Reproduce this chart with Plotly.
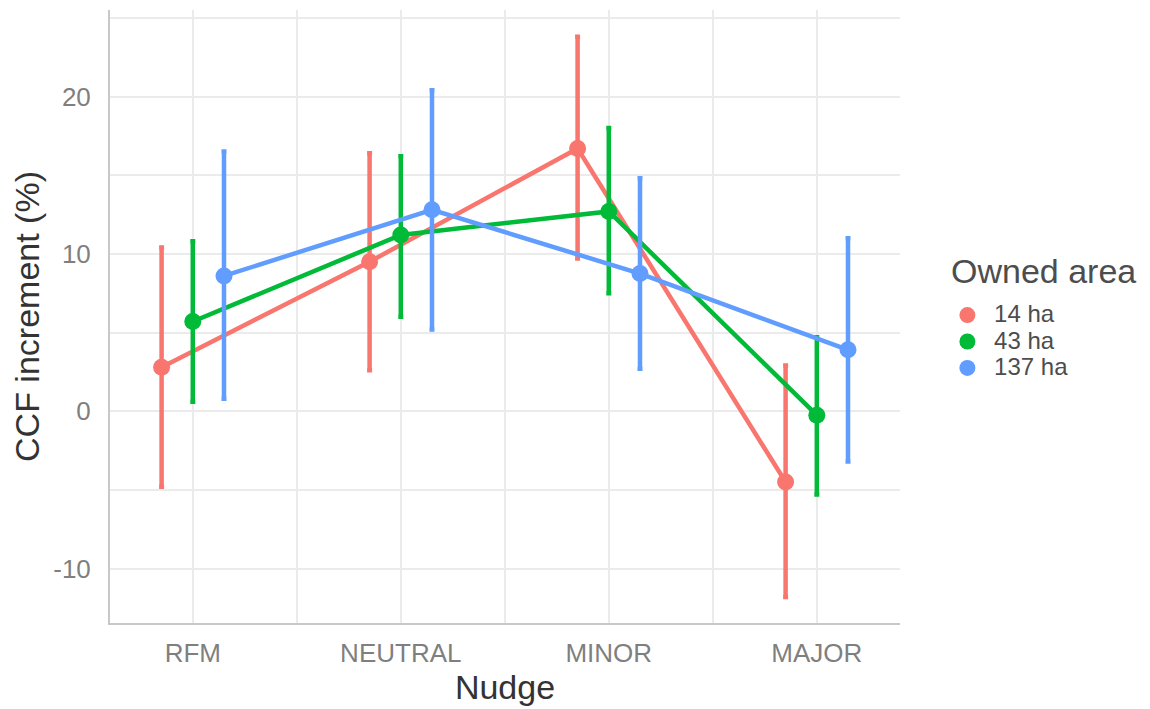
import plotly.graph_objects as go
import numpy as np

categories = ["RFM", "NEUTRAL", "MINOR", "MAJOR"]
groups = ["14 ha", "43 ha", "137 ha"]
colors = ["#F8766D", "#00BA38", "#619CFF"]

est_14 = [2.8, 9.5, 16.7, -4.5]
low_14 = [-4.8, 2.6, 9.7, -11.8]
high_14 = [10.4, 16.4, 23.8, 2.9]

est_43 = [5.7, 11.2, 12.7, -0.25]
low_43 = [0.6, 6.0, 7.5, -5.3]
high_43 = [10.8, 16.2, 18.0, 4.7]

est_137 = [8.6, 12.8, 8.75, 3.9]
low_137 = [0.8, 5.2, 2.7, -3.2]
high_137 = [16.5, 20.4, 14.8, 11.0]

y_ticks = [-10, 0, 10, 20]
y_ticklabels = ["-10", "0", "10", "20"]
legend_title = "Owned area"

ests = [est_14, est_43, est_137]
lows = [low_14, low_43, low_137]
highs = [high_14, high_43, high_137]
dodge = [-0.15, 0.0, 0.15]

fig = go.Figure()
base = np.arange(len(categories))
for g, col, e, lo, hi, d in zip(groups, colors, ests, lows, highs, dodge):
    e = np.array(e); lo = np.array(lo); hi = np.array(hi)
    fig.add_trace(go.Scatter(
        x=base + d, y=e, mode="lines+markers",
        line=dict(color=col, width=4.5),
        marker=dict(color=col, size=17),
        error_y=dict(type="data", symmetric=False, array=hi - e, arrayminus=e - lo,
                     color=col, thickness=4.5, width=2.5),
        showlegend=False, name=g, hoverinfo="skip"))
for g, col in zip(groups, colors):
    fig.add_trace(go.Scatter(x=[None], y=[None], mode="markers",
                             marker=dict(color=col, size=16),
                             name='<span style="font-size:24px">&nbsp;' + g + '</span>'))

fig.add_annotation(text=legend_title, xref="paper", yref="paper",
                   x=1.062, y=0.574, xanchor="left", yanchor="middle",
                   showarrow=False, font=dict(size=34, color="#4D4D4D"))

grid = "#EBEBEB"
fig.update_layout(
    width=1150, height=709,
    margin=dict(l=102, r=258, t=2, b=94),
    paper_bgcolor="white", plot_bgcolor="white",
    font=dict(family="Liberation Sans, Arial, sans-serif", color="#333333"),
    showlegend=True,
    legend=dict(font=dict(size=18, color="#4D4D4D"),
                x=1.060, xanchor="left", y=0.532, yanchor="top",
                tracegroupgap=0, itemwidth=30),
    xaxis=dict(range=[-0.398, 3.40], tickmode="array", tickvals=list(base),
               ticktext=categories, showgrid=True, gridcolor=grid, gridwidth=2,
               minor=dict(tickmode="array", tickvals=[0.5, 1.5, 2.5], showgrid=True,
                          gridcolor=grid, gridwidth=1.5),
               zeroline=False, showline=True, linecolor="#C8C8C8", linewidth=2,
               ticks="", ticklabelstandoff=6, tickfont=dict(size=26, color="#7F7F7F"),
               title=dict(text="Nudge", font=dict(size=34, color="#333333"), standoff=6)),
    yaxis=dict(range=[-13.46, 25.5], tickmode="array", tickvals=y_ticks,
               ticktext=y_ticklabels, showgrid=True, gridcolor=grid, gridwidth=2,
               minor=dict(tickmode="array", tickvals=[-5, 5, 15, 25], showgrid=True,
                          gridcolor=grid, gridwidth=1.5),
               zeroline=False, showline=True, linecolor="#C8C8C8", linewidth=2,
               ticks="", ticklabelstandoff=12, tickfont=dict(size=26, color="#7F7F7F"),
               title=dict(text="CCF increment (%)", font=dict(size=34, color="#333333"), standoff=10)),
)
fig.write_html("out.html")
